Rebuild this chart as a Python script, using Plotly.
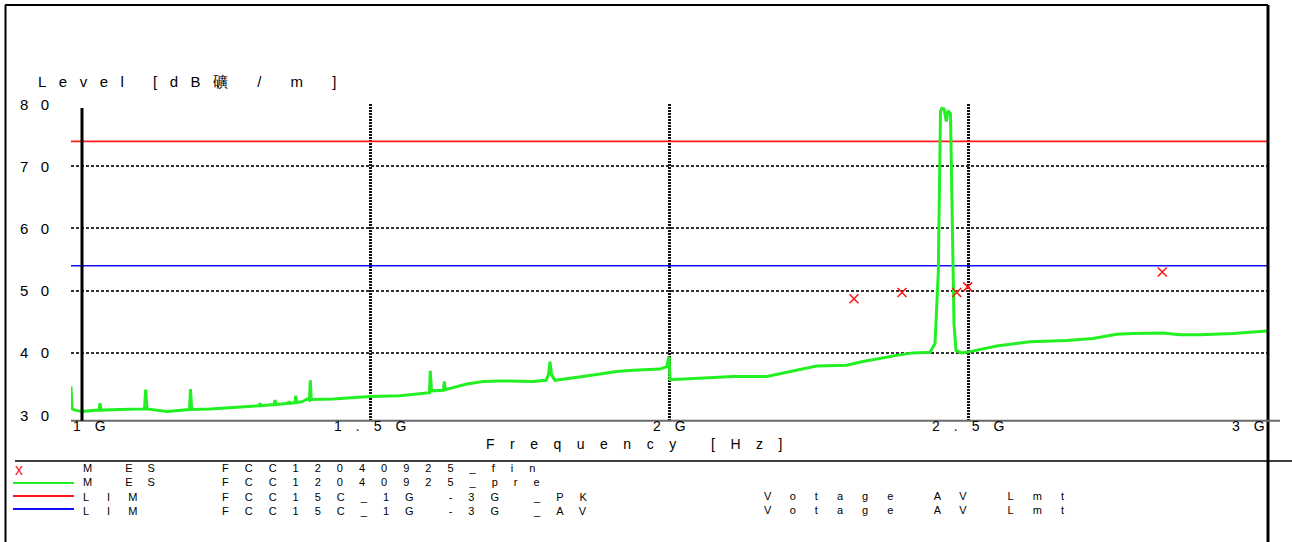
import plotly.graph_objects as go

# ---------------- data ----------------
# pre-scan trace (MES FCC12040925_pre): frequency in MHz, level in dB(uV/m)
pre_freq_mhz = [
    1000.0, 1001.7, 1006.7, 1018.4, 1031.8, 1046.8, 1048.5, 1050.2, 1081.9,
    1122.9, 1124.9, 1127.1, 1160.5, 1198.2, 1199.8, 1201.8, 1232.4, 1270.9,
    1314.4, 1316.0, 1317.7, 1339.5, 1341.1, 1342.8, 1362.9, 1364.5, 1366.2,
    1374.6, 1375.7, 1377.4, 1387.9, 1394.6, 1398.8, 1400.2, 1401.7, 1438.1,
    1500.0, 1550.2, 1578.1, 1594.8, 1599.5, 1600.8, 1602.8, 1622.9, 1624.2,
    1625.9, 1661.7, 1688.9, 1717.3, 1772.6, 1794.3, 1798.5, 1801.0, 1803.5,
    1809.3, 1856.2, 1912.5, 1939.8, 1985.0, 1996.2, 2000.0, 2001.7, 2051.8,
    2107.0, 2163.3, 2202.3, 2246.9, 2297.1, 2324.4, 2380.7, 2408.0, 2436.4,
    2444.8, 2450.3, 2454.0, 2456.5, 2459.9, 2463.7, 2466.5, 2470.7, 2473.7,
    2476.6, 2479.9, 2489.4, 2503.3, 2548.0, 2603.6, 2665.0, 2709.0, 2748.6,
    2775.9, 2826.1, 2854.5, 2887.9, 2943.1, 3000.0,
]
pre_level_db = [
    34.6, 31.0, 30.8, 30.6, 30.7, 30.8, 31.9, 30.8, 30.9,
    31.0, 34.1, 31.0, 30.6, 30.9, 34.2, 30.9, 31.0, 31.2,
    31.5, 31.9, 31.5, 31.7, 32.4, 31.7, 31.9, 32.2, 31.9,
    32.0, 33.1, 32.0, 32.2, 32.6, 32.4, 35.6, 32.5, 32.6,
    33.0, 33.1, 33.4, 33.5, 33.6, 37.1, 33.9, 34.0, 35.4,
    34.1, 35.0, 35.4, 35.5, 35.4, 35.6, 36.5, 38.6, 36.5,
    35.6, 36.2, 37.0, 37.2, 37.4, 37.8, 39.4, 35.7, 35.9,
    36.2, 36.2, 37.0, 37.9, 38.0, 38.6, 39.6, 40.0, 40.1,
    41.5, 52.8, 78.8, 79.3, 79.2, 77.2, 78.9, 78.5, 63.5,
    44.7, 40.4, 40.0, 40.2, 41.1, 41.8, 42.0, 42.3, 43.0,
    43.1, 43.2, 42.9, 42.9, 43.1, 43.5,
]

# final measurement points (MES FCC12040925_fin)
fin_freq_mhz = [2309.3, 2389.6, 2481.1, 2499.5, 2824.9]
fin_level_db = [48.7, 49.7, 49.7, 50.6, 53.0]

# limit lines
limit_freq_mhz = [1000, 3000]
limit_pk_db = [74, 74]
limit_av_db = [54, 54]

# axes
x_tick_vals = [1000, 1500, 2000, 2500, 3000]
x_tick_text = ["1G", "1.5G", "2G", "2.5G", "3G"]
x_grid_vals = [1500, 2000, 2500]
y_tick_vals = [30, 40, 50, 60, 70, 80]
y_tick_text = ["30", "40", "50", "60", "70", "80"]
y_grid_vals = [40, 50, 60, 70, 80]

# legend rows
legend_kind = ["M ES", "M ES", "LIM", "LIM"]
legend_name = ["FCC12040925_fin", "FCC12040925_pre", "FCC15C_1G -3G _PK", "FCC15C_1G -3G _AV"]
legend_note = ["Votage AV Lmt", "Votage AV Lmt"]

# ---------------- layout helpers ----------------
W, H = 1292, 542
FONT = "Liberation Sans, Arial, sans-serif"
FS = 15
XFS = 14
LFS = 11  # legend font (14.3 px line pitch)
GREEN = "#22f022"
RED = "#ff1a1a"
BLUE = "#1010ff"


def px(x):
    return x / W


def py(y):
    return 1 - y / H


def sp(text, ls):
    return f'<span style="letter-spacing:{ls}px">{text}</span>'


fig = go.Figure()

fig.add_trace(go.Scatter(x=limit_freq_mhz, y=limit_pk_db, mode="lines",
                         line=dict(color=RED, width=1.6), hoverinfo="skip"))
fig.add_trace(go.Scatter(x=limit_freq_mhz, y=limit_av_db, mode="lines",
                         line=dict(color=BLUE, width=1.6), hoverinfo="skip"))
fig.add_trace(go.Scatter(x=pre_freq_mhz, y=pre_level_db, mode="lines",
                         line=dict(color=GREEN, width=3), hoverinfo="skip"))
fig.add_trace(go.Scatter(x=fin_freq_mhz, y=fin_level_db, mode="markers",
                         marker=dict(symbol="x-thin", size=9,
                                     line=dict(color=RED, width=1.6)),
                         hoverinfo="skip"))

x_dom = [px(71), px(1267)]
y_dom = [py(420.7), py(104)]

fig.update_layout(
    width=W, height=H,
    margin=dict(l=0, r=0, t=0, b=0),
    paper_bgcolor="white", plot_bgcolor="white",
    showlegend=False,
    font=dict(family=FONT, size=FS, color="black"),
    xaxis=dict(domain=x_dom, range=[1000, 3000], tickvals=x_grid_vals,
               showticklabels=False, ticks="", showline=False, zeroline=False,
               showgrid=True, gridcolor="#111", griddash="2px,1px", gridwidth=2.5),
    yaxis=dict(domain=y_dom, range=[29.1, 80], tickvals=y_grid_vals,
               showticklabels=False, ticks="", showline=False, zeroline=False,
               showgrid=True, gridcolor="#333", griddash="3px,2px", gridwidth=1.5),
)

shapes = []


def pline(x0, y0, x1, y1, color="black", width=2):
    shapes.append(dict(type="line", xref="paper", yref="paper",
                       x0=px(x0), y0=py(y0), x1=px(x1), y1=py(y1),
                       line=dict(color=color, width=width)))


# outer frame
pline(5.5, 5, 5.5, 545, width=2)
pline(5, 5, 1268, 5, width=2)
pline(1268, 5, 1268, 545, width=3)
# bottom axis line and thick left axis line
pline(71, 420.7, 1280, 420.7, color="#6a6a6a", width=2)
pline(82, 108, 82, 420.7, width=3)
# legend separator
pline(15, 461, 1292, 461, width=1.5)
# legend line samples
pline(13, 483, 74, 483, color=GREEN, width=2)
pline(13, 496, 74, 496, color=RED, width=2)
pline(13, 509, 74, 509, color=BLUE, width=2)
fig.update_layout(shapes=shapes)

ann = []


def ptext(text, x, y, size=FS, color="black", anchor="left"):
    ann.append(dict(text=text, xref="paper", yref="paper",
                    x=px(x), y=py(y), xanchor=anchor, yanchor="middle",
                    align="left", showarrow=False, borderpad=0,
                    font=dict(family=FONT, size=size, color=color)))


# y axis title
ptext(sp("Level [dB礦 / m ]", 12.5), 37, 81.5)

# y tick labels
for v, t in zip(y_tick_vals, y_tick_text):
    ann.append(dict(text=sp(t, 12.5), xref="paper", yref="y", x=px(19), y=v,
                    xanchor="left", yanchor="middle", showarrow=False,
                    borderpad=0, font=dict(family=FONT, size=FS)))

# x tick labels
LS_X = 14
for i, (v, t) in enumerate(zip(x_tick_vals, x_tick_text)):
    if i == 0:
        anchor, shift = "left", 1
    elif i == len(x_tick_vals) - 1:
        anchor, shift = "right", LS_X - 1
    else:
        anchor, shift = "center", LS_X / 2
    ann.append(dict(text=sp(t, LS_X), xref="x", yref="paper", x=v, y=py(425.5),
                    xanchor=anchor, yanchor="middle", xshift=shift,
                    showarrow=False, borderpad=0, font=dict(family=FONT, size=XFS)))

# x axis title
ptext(sp("Frequency [Hz]", 15.5), 485, 443.5, size=XFS)

# legend (one multi-line text block per column)
ptext("x", 14, 469, size=16, color=RED)
kind_ls = {"M ES": 15, "LIM": 18}
ptext("<br>".join(sp(k, kind_ls[k]) for k in legend_kind), 82, 489.5, size=LFS)
ptext("<br>".join(sp(n, 16) for n in legend_name), 221, 489.5, size=LFS)
ptext("<br>".join(sp(n, 19) for n in legend_note), 763, 502.7, size=LFS)

fig.update_layout(annotations=ann)

fig.write_html("out.html", config={"displayModeBar": False},
               post_script="document.body.style.margin='0';")
